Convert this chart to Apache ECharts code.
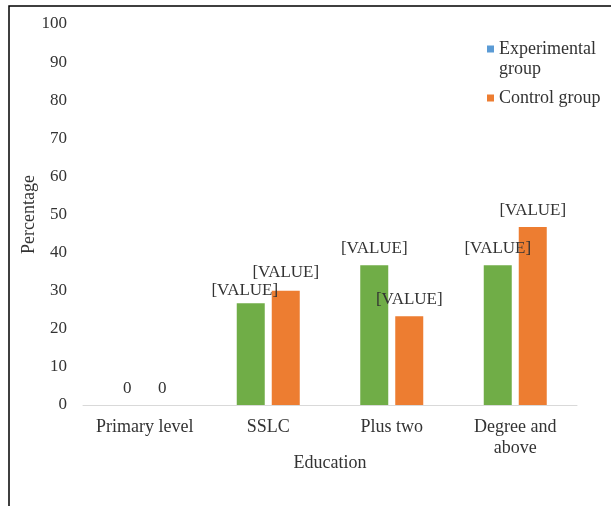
<!DOCTYPE html>
<html>
<head>
<meta charset="utf-8">
<script src="https://cdn.jsdelivr.net/npm/echarts@6/dist/echarts.min.js"></script>
<style>
  html, body { margin: 0; padding: 0; background: #fff; }
  #chart { width: 611px; height: 506px; }
</style>
</head>
<body>
<div id="chart"></div>
<script>
// Education level of respondents, percentage per group
const categories = ['Primary level', 'SSLC', 'Plus two', 'Degree and above'];
const experimental = [0, 26.7, 36.7, 36.7];
const control = [0, 30, 23.3, 46.7];
const experimentalLabels = ['0', '[VALUE]', '[VALUE]', '[VALUE]'];
const controlLabels = ['0', '[VALUE]', '[VALUE]', '[VALUE]'];
const yTicks = [0, 10, 20, 30, 40, 50, 60, 70, 80, 90, 100];

const FONT = '"Liberation Serif", "Times New Roman", serif';
const TXT = '#333333';
const GREEN = '#70AD47';
const ORANGE = '#ED7D31';
const BLUE = '#5B9BD5';

// small nudges for labels that collide with neighbours
const expOffsets = [[0, 0], [-6, 4], [0, 0], [0, 0]];
const ctlOffsets = [[0, 0], [0, -2], [0, 0], [0, 0]];

function barData(values, color, offsets) {
  return values.map((v, i) => ({
    value: v,
    itemStyle: { color: color },
    label: { offset: offsets[i] }
  }));
}

const chart = echarts.init(document.getElementById('chart'), null, { renderer: 'canvas' });
chart.setOption({
  animation: false,
  backgroundColor: '#fff',
  textStyle: { fontFamily: FONT },
  grid: { left: 83, right: 34, top: 24, bottom: 101, containLabel: false },
  legend: {
    orient: 'vertical',
    left: 487,
    top: 39,
    padding: 0,
    itemWidth: 7,
    itemHeight: 7,
    itemGap: 29,
    icon: 'rect',
    textStyle: { fontFamily: FONT, fontSize: 18, color: TXT, lineHeight: 20 },
    data: [
      { name: 'Experimental group', itemStyle: { color: BLUE } },
      { name: 'Control group', itemStyle: { color: ORANGE } }
    ],
    formatter: name => name === 'Experimental group' ? 'Experimental' : name
  },
  graphic: [
    {
      type: 'text', left: 499, top: 60,
      style: { text: 'group', font: '18px ' + FONT, fill: TXT }
    },
    {
      type: 'rect', silent: true,
      shape: { x: 9, y: 6, width: 800, height: 700 },
      style: { fill: 'none', stroke: '#000', lineWidth: 1.5 }
    }
  ],
  xAxis: {
    type: 'category',
    data: categories,
    name: 'Education',
    nameLocation: 'middle',
    nameGap: 49,
    nameMoveOverlap: false,
    nameTextStyle: { fontFamily: FONT, fontSize: 18, color: TXT },
    axisLine: { show: true, lineStyle: { color: '#D9D9D9', width: 1 } },
    axisTick: { show: false },
    axisLabel: {
      interval: 0,
      fontFamily: FONT, fontSize: 18, color: TXT, margin: 12, lineHeight: 21,
      formatter: v => v === 'Degree and above' ? 'Degree and\nabove' : v
    }
  },
  yAxis: {
    type: 'value',
    min: yTicks[0],
    max: yTicks[yTicks.length - 1],
    interval: 10,
    name: 'Percentage',
    nameLocation: 'middle',
    nameGap: 45,
    nameMoveOverlap: false,
    nameTextStyle: { fontFamily: FONT, fontSize: 18, color: TXT },
    axisLine: { show: false },
    axisTick: { show: false },
    splitLine: { show: false },
    axisLabel: { fontFamily: FONT, fontSize: 17, color: TXT, margin: 16 }
  },
  series: [
    {
      name: 'Experimental group',
      type: 'bar',
      barWidth: 28,
      barGap: '25%',
      itemStyle: { color: GREEN },
      data: barData(experimental, GREEN, expOffsets),
      label: {
        show: true, position: 'top', distance: 8,
        fontFamily: FONT, fontSize: 17, color: TXT,
        formatter: p => experimentalLabels[p.dataIndex]
      }
    },
    {
      name: 'Control group',
      type: 'bar',
      barWidth: 28,
      barGap: '25%',
      itemStyle: { color: ORANGE },
      data: barData(control, ORANGE, ctlOffsets),
      label: {
        show: true, position: 'top', distance: 8,
        fontFamily: FONT, fontSize: 17, color: TXT,
        formatter: p => controlLabels[p.dataIndex]
      }
    }
  ]
});
</script>
</body>
</html>
